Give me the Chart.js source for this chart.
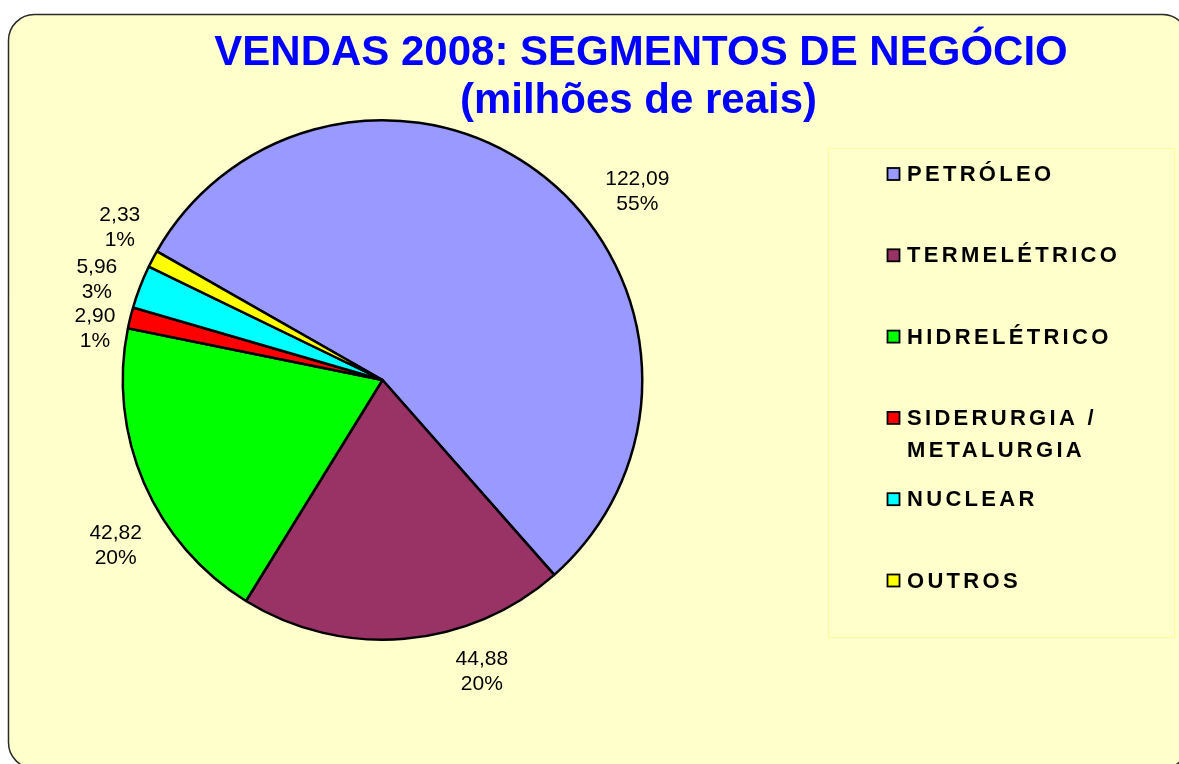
<!DOCTYPE html>
<html>
<head>
<meta charset="utf-8">
<script src="https://cdn.jsdelivr.net/npm/chart.js@4.4.1/dist/chart.umd.min.js"></script>
<style>
  html, body { margin: 0; padding: 0; background: #ffffff; }
  #c { display: block; }
</style>
</head>
<body>
<canvas id="c" width="1179" height="764"></canvas>
<script>
// ---- DATA ----
const titleLines = ['VENDAS 2008: SEGMENTOS DE NEGÓCIO', '(milhões de reais)'];
const categories = ['PETRÓLEO', 'TERMELÉTRICO', 'HIDRELÉTRICO', 'SIDERURGIA / METALURGIA', 'NUCLEAR', 'OUTROS'];
const values = [122.09, 44.88, 42.82, 2.90, 5.96, 2.33];
const percentLabels = ['55%', '20%', '20%', '1%', '3%', '1%'];
const sliceColors = ['#9999FF', '#993366', '#00FF00', '#FF0000', '#00FFFF', '#FFFF00'];

// ---- LAYOUT (label placement relative to slice mid-angle, legend geometry) ----
const labelAngleShift = [14.45, -13.96, -8.5, -3.8, -1.65, 2.3];   // degrees
const labelRadiusFactor = [1.219, 1.186, 1.21, 1.124, 1.166, 1.169];
const FONT = '"Liberation Sans", Arial, Helvetica, sans-serif';

const backgroundPlugin = {
  id: 'bgFrame',
  beforeDraw(chart) {
    const ctx = chart.ctx;
    ctx.save();
    ctx.fillStyle = '#ffffff';
    ctx.fillRect(0, 0, chart.width, chart.height);
    const x = 8.5, y = 14.5, w = 1180, h = 754, r = 26;
    ctx.beginPath();
    ctx.moveTo(x + r, y);
    ctx.lineTo(x + w - r, y);
    ctx.arcTo(x + w, y, x + w, y + r, r);
    ctx.lineTo(x + w, y + h - r);
    ctx.arcTo(x + w, y + h, x + w - r, y + h, r);
    ctx.lineTo(x + r, y + h);
    ctx.arcTo(x, y + h, x, y + h - r, r);
    ctx.lineTo(x, y + r);
    ctx.arcTo(x, y, x + r, y, r);
    ctx.closePath();
    ctx.fillStyle = '#FFFFCC';
    ctx.fill();
    ctx.lineWidth = 1.5;
    ctx.strokeStyle = '#2a2a2a';
    ctx.stroke();
    // title
    ctx.fillStyle = '#0000FF';
    ctx.font = 'bold 42px ' + FONT;
    ctx.textAlign = 'center';
    ctx.textBaseline = 'alphabetic';
    ctx.fillText(titleLines[0], 641, 65);
    ctx.fillText(titleLines[1], 638.5, 113);
    ctx.restore();
  }
};

const labelPlugin = {
  id: 'sliceLabels',
  afterDatasetsDraw(chart) {
    const ctx = chart.ctx;
    const meta = chart.getDatasetMeta(0);
    ctx.save();
    ctx.fillStyle = '#000000';
    ctx.font = '21px ' + FONT;
    ctx.textAlign = 'center';
    ctx.textBaseline = 'middle';
    meta.data.forEach((arc, i) => {
      const p = arc.getProps(['x', 'y', 'startAngle', 'endAngle', 'outerRadius'], true);
      const mid = (p.startAngle + p.endAngle) / 2 + labelAngleShift[i] * Math.PI / 180;
      const d = p.outerRadius * labelRadiusFactor[i];
      const lx = p.x + Math.cos(mid) * d;
      const ly = p.y + Math.sin(mid) * d;
      const valText = chart.data.datasets[0].data[i].toFixed(2).replace('.', ',');
      ctx.fillText(valText, lx, ly - 12.5);
      ctx.fillText(percentLabels[i], lx, ly + 12.5);
    });
    ctx.restore();
  }
};

const legendPlugin = {
  id: 'boxLegend',
  afterDraw(chart) {
    const ctx = chart.ctx;
    ctx.save();
    ctx.strokeStyle = '#FFFF99';
    ctx.lineWidth = 1;
    ctx.strokeRect(828.5, 148.5, 346, 489);
    ctx.font = 'bold 22px ' + FONT;
    ctx.textAlign = 'left';
    ctx.textBaseline = 'middle';
    if ('letterSpacing' in ctx) ctx.letterSpacing = '3.3px';
    const colors = chart.data.datasets[0].backgroundColor;
    chart.data.labels.forEach((lab, i) => {
      const cy = 174 + i * 81.3;
      ctx.fillStyle = colors[i];
      ctx.fillRect(887.5, cy - 6, 12, 12);
      ctx.strokeStyle = '#000000';
      ctx.lineWidth = 1.8;
      ctx.strokeRect(887.5, cy - 6, 12, 12);
      ctx.fillStyle = '#000000';
      const lines = lab.includes(' / ') ? [lab.split(' / ')[0] + ' /', lab.split(' / ')[1]] : [lab];
      lines.forEach((ln, j) => ctx.fillText(ln, 907, cy + 1 + j * 32));
    });
    ctx.restore();
  }
};

new Chart(document.getElementById('c'), {
  type: 'pie',
  data: {
    labels: categories,
    datasets: [{
      data: values,
      backgroundColor: sliceColors,
      borderColor: '#000000',
      borderWidth: 2.5,
      borderAlign: 'center'
    }]
  },
  options: {
    responsive: false,
    devicePixelRatio: 1,
    animation: false,
    rotation: -60.3,
    layout: { padding: { top: 119, left: 121, right: 535, bottom: 123 } },
    plugins: {
      legend: { display: false },
      title: { display: false },
      tooltip: { enabled: false }
    }
  },
  plugins: [backgroundPlugin, labelPlugin, legendPlugin]
});
</script>
</body>
</html>
